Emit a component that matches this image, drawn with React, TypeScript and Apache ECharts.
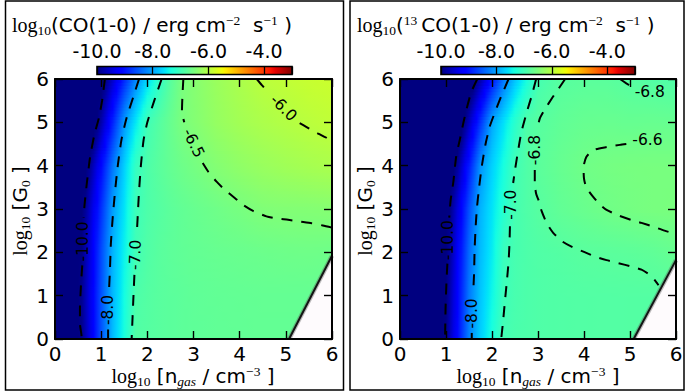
import React, { useEffect, useRef } from 'react';
import * as echarts from 'echarts';

const SANS = 'DejaVu Sans';
const SERIF = 'Liberation Serif';

// Sample positions: log10 n_gas (columns) and log10 G0 (rows)
const X_NODES = [0, 0.25, 0.5, 0.75, 1, 1.25, 1.5, 1.75, 2, 2.25, 2.5, 2.75, 3, 3.5, 4, 4.5, 5, 5.5, 6];
const Y_NODES = [0, 1, 2, 3, 4, 5, 6];

// log10 CO(1-0) line flux, one row per log10 G0 value
const CO_FLUX = [
  [-12, -11, -10.2, -9.4, -8.56, -7.84, -7.33, -6.86, -6.83, -6.8, -6.78, -6.76, -6.75, -6.73, -6.72, -6.71, -6.71, -6.71, -6.71],
  [-12, -11, -10.15, -9.37, -8.57, -7.86, -7.38, -6.9, -6.84, -6.8, -6.78, -6.76, -6.74, -6.72, -6.71, -6.7, -6.7, -6.7, -6.7],
  [-12, -11, -10.25, -9.44, -8.62, -7.89, -7.45, -7.0, -6.87, -6.8, -6.76, -6.73, -6.71, -6.68, -6.66, -6.64, -6.62, -6.61, -6.62],
  [-12, -11.1, -10.35, -9.57, -8.8, -8.03, -7.56, -7.03, -6.9, -6.83, -6.77, -6.72, -6.68, -6.61, -6.54, -6.47, -6.45, -6.44, -6.42],
  [-12.5, -11.6, -10.7, -9.88, -9.1, -8.31, -7.7, -7.1, -6.9, -6.79, -6.7, -6.62, -6.56, -6.43, -6.33, -6.25, -6.19, -6.14, -6.1],
  [-13, -12.2, -11.4, -10.55, -9.73, -8.9, -8.07, -7.52, -7.0, -6.83, -6.67, -6.52, -6.44, -6.28, -6.17, -6.09, -6.03, -5.97, -5.92],
  [-13.5, -12.8, -12.0, -11.1, -10.22, -9.54, -8.86, -8.19, -7.63, -7.15, -6.8, -6.52, -6.42, -6.24, -6.1, -5.97, -5.91, -5.86, -5.83],
];

// log10 13CO(1-0) line flux
const CO13_FLUX = [
  [-13, -12.2, -11.4, -10.7, -9.93, -9.08, -8.24, -7.71, -7.32, -6.98, -6.92, -6.9, -6.88, -6.86, -6.85, -6.845, -6.84, -6.84, -6.84],
  [-13, -12.2, -11.5, -10.75, -10.0, -9.15, -8.3, -7.77, -7.42, -7.03, -6.94, -6.9, -6.88, -6.86, -6.85, -6.845, -6.84, -6.84, -6.83],
  [-13, -12.3, -11.6, -10.85, -10.1, -9.25, -8.4, -7.83, -7.5, -7.06, -6.95, -6.9, -6.87, -6.84, -6.8, -6.785, -6.77, -6.74, -6.68],
  [-13, -12.4, -11.7, -11.0, -10.25, -9.42, -8.58, -7.89, -7.56, -7.23, -6.96, -6.88, -6.82, -6.72, -6.66, -6.6, -6.56, -6.53, -6.52],
  [-13.2, -12.5, -11.8, -11.1, -10.5, -9.83, -8.97, -8.1, -7.69, -7.35, -7.0, -6.88, -6.78, -6.68, -6.6, -6.56, -6.54, -6.53, -6.53],
  [-13.5, -12.9, -12.3, -11.7, -11.2, -10.45, -9.6, -8.77, -7.97, -7.58, -7.19, -6.88, -6.82, -6.73, -6.68, -6.67, -6.68, -6.67, -6.68],
  [-14, -13.4, -12.8, -12.3, -11.8, -11.1, -10.4, -9.72, -9.01, -8.31, -7.77, -7.35, -6.96, -6.81, -6.78, -6.78, -6.82, -6.85, -6.87],
];

// Region without models (lower-right wedge): [x at G0=0, G0=0, x right edge, G0 at right edge]
const CO_GAP = [[5.07, 0, 6, 1.92]];
const CO13_GAP = [[5.08, 0, 6, 1.82]];

// Colour scale limits and colourbar ticks
const COLOR_MIN = -10;
const COLOR_MAX = -3;
const CBAR_TICKS = [-10, -8, -6, -4];

// CO contour paths, split where the inline label sits
const CO_M100_A = [[1.08, 6], [1.02, 5.5], [0.95, 5.1], [0.85, 4.7], [0.76, 4.2], [0.69, 3.6], [0.64, 3.1], [0.62, 2.8]];
const CO_M100_B = [[0.59, 1.7], [0.56, 1.2], [0.54, 0.7], [0.54, 0.35], [0.57, 0.12], [0.58, 0]];
const CO_M80_A = [[1.82, 6], [1.7, 5.6], [1.55, 5.1], [1.44, 4.6], [1.36, 4.0], [1.3, 3.4], [1.25, 2.8], [1.21, 2.2], [1.19, 1.6], [1.17, 1.12]];
const CO_M80_B = [[1.15, 0.22], [1.15, 0]];
const CO_M70_A = [[2.31, 6], [2.15, 5.5], [2.0, 5.0], [1.92, 4.6], [1.86, 4.0], [1.82, 3.4], [1.79, 2.8], [1.77, 2.4]];
const CO_M70_B = [[1.72, 1.48], [1.7, 1.0], [1.68, 0.5], [1.66, 0]];
const CO_M65_A = [[2.78, 6], [2.76, 5.6], [2.75, 5.25], [2.8, 5.0]];
const CO_M65_B = [[3.2, 4.06], [3.32, 3.86], [3.5, 3.63], [3.68, 3.44], [3.9, 3.25], [4.08, 3.09], [4.3, 2.95], [4.58, 2.83], [4.8, 2.78], [5.05, 2.75], [5.3, 2.71], [5.56, 2.67], [5.8, 2.62], [6, 2.57]];
const CO_M60_A = [[4.37, 6], [4.48, 5.86], [4.6, 5.72]];
const CO_M60_B = [[5.3, 4.98], [5.45, 4.89], [5.7, 4.74], [5.87, 4.65], [6, 4.56]];

// 13CO contour paths
const CO13_M100_A = [[1.68, 6], [1.55, 5.7], [1.45, 5.32], [1.38, 5.0], [1.3, 4.6], [1.22, 4.2], [1.16, 3.63], [1.1, 3.2], [1.07, 2.8]];
const CO13_M100_B = [[1.03, 1.74], [1.01, 1.32], [0.99, 0.7], [0.98, 0]];
const CO13_M80_A = [[2.36, 6], [2.2, 5.6], [2.07, 5.25], [1.95, 4.9], [1.86, 4.5], [1.78, 4.0], [1.72, 3.5], [1.67, 3.0], [1.64, 2.5], [1.62, 2.0], [1.61, 1.5], [1.59, 1.05]];
const CO13_M80_B = [[1.56, 0.14], [1.56, 0]];
const CO13_M70_A = [[2.96, 6], [2.86, 5.6], [2.76, 5.25], [2.64, 4.78], [2.56, 4.3], [2.5, 3.9], [2.46, 3.6]];
const CO13_M70_B = [[2.39, 2.6], [2.38, 2.2], [2.36, 1.78], [2.32, 1.3], [2.28, 0.86], [2.24, 0.4], [2.2, 0]];
const CO13_M68_A = [[3.59, 6], [3.45, 5.78], [3.3, 5.55], [3.15, 5.3], [3.04, 5.09], [2.98, 4.82]];
const CO13_M68_B = [[2.93, 3.9], [2.93, 3.59], [2.96, 3.35], [3.01, 3.21], [3.08, 2.95], [3.19, 2.67], [3.33, 2.45], [3.53, 2.25], [3.75, 2.12], [4.0, 2.01], [4.25, 1.9], [4.49, 1.82], [4.75, 1.75], [5.04, 1.67], [5.25, 1.6], [5.43, 1.48], [5.53, 1.37], [5.62, 1.24]];
const CO13_M68_C = [[4.78, 6], [4.92, 5.9], [5.02, 5.83]];
const CO13_M66_A = [[4.92, 4.5], [4.78, 4.48], [4.5, 4.43], [4.2, 4.36], [4.05, 4.2], [3.99, 3.96], [4.0, 3.7], [4.05, 3.5], [4.2, 3.28], [4.35, 3.1], [4.49, 2.98], [4.75, 2.85], [5.02, 2.75], [5.25, 2.68], [5.51, 2.59], [5.75, 2.5], [6, 2.42]];

// Contour levels with their path pieces
const CO_LEVELS: [number, number[][][]][] = [
  [-10, [CO_M100_A, CO_M100_B]],
  [-8, [CO_M80_A, CO_M80_B]],
  [-7, [CO_M70_A, CO_M70_B]],
  [-6.5, [CO_M65_A, CO_M65_B]],
  [-6, [CO_M60_A, CO_M60_B]],
];
const CO13_LEVELS: [number, number[][][]][] = [
  [-10, [CO13_M100_A, CO13_M100_B]],
  [-8, [CO13_M80_A, CO13_M80_B]],
  [-7, [CO13_M70_A, CO13_M70_B]],
  [-6.8, [CO13_M68_A, CO13_M68_B, CO13_M68_C]],
  [-6.6, [CO13_M66_A]],
];

// Inline contour labels: [x, y, rotation in degrees, level]
const CO_LABELS = [
  [0.61, 2.25, 90, -10],
  [1.15, 0.67, 90, -8],
  [1.74, 1.94, 88, -7],
  [3.0, 4.52, -64, -6.5],
  [4.95, 5.33, -45, -6],
];
const CO13_LABELS = [
  [1.05, 2.28, 90, -10],
  [1.57, 0.59, 90, -8],
  [2.41, 3.1, 90, -7],
  [2.94, 4.36, 90, -6.8],
  [5.43, 5.71, 0, -6.8],
  [5.38, 4.59, 0, -6.6],
];

// matplotlib "jet" colormap segments
const JET_R = [[0, 0], [0.35, 0], [0.66, 1], [0.89, 1], [1, 0.5]];
const JET_G = [[0, 0], [0.125, 0], [0.375, 1], [0.64, 1], [0.91, 0], [1, 0]];
const JET_B = [[0, 0.5], [0.11, 1], [0.34, 1], [0.65, 0], [1, 0]];

function channel(seg: number[][], t: number) {
  for (let i = 0; i < seg.length - 1; i++) {
    const [a, va] = seg[i];
    const [b, vb] = seg[i + 1];
    if (t <= b) return va + ((vb - va) * (t - a)) / (b - a);
  }
  return seg[seg.length - 1][1];
}

function jet(v: number) {
  const t = Math.min(1, Math.max(0, (v - COLOR_MIN) / (COLOR_MAX - COLOR_MIN)));
  const r = Math.round(channel(JET_R, t) * 255);
  const g = Math.round(channel(JET_G, t) * 255);
  const b = Math.round(channel(JET_B, t) * 255);
  return `rgb(${r},${g},${b})`;
}

const SUB_ROWS = 14;
const SUB_COLS = 3;

function fieldSeries(field: number[][], axis: number) {
  return {
    type: 'custom',
    xAxisIndex: axis,
    yAxisIndex: axis,
    z: 1,
    silent: true,
    data: Y_NODES.slice(0, -1).map((y, j) => [X_NODES[0], y, X_NODES[X_NODES.length - 1], Y_NODES[j + 1], j]),
    renderItem: (_p: any, api: any) => {
      const x0 = api.value(0);
      const y0 = api.value(1);
      const x1 = api.value(2);
      const y1 = api.value(3);
      const j = api.value(4);
      const pA = api.coord([x0, y0]);
      const pB = api.coord([x1, y1]);
      const children: any[] = [];
      for (let k = 0; k < SUB_ROWS; k++) {
        const f = (k + 0.5) / SUB_ROWS;
        const stops: any[] = [];
        let last = 0;
        for (let i = 0; i < X_NODES.length - 1; i++) {
          const va = field[j][i] * (1 - f) + field[j + 1][i] * f;
          const vb = field[j][i + 1] * (1 - f) + field[j + 1][i + 1] * f;
          last = vb;
          for (let s = 0; s < SUB_COLS; s++) {
            const g = s / SUB_COLS;
            const xv = X_NODES[i] + (X_NODES[i + 1] - X_NODES[i]) * g;
            stops.push({ offset: (xv - x0) / (x1 - x0), color: jet(va + (vb - va) * g) });
          }
        }
        stops.push({ offset: 1, color: jet(last) });
        const yBot = pA[1] + ((pB[1] - pA[1]) * k) / SUB_ROWS;
        const yTop = pA[1] + ((pB[1] - pA[1]) * (k + 1)) / SUB_ROWS;
        children.push({
          type: 'rect',
          shape: { x: pA[0], y: yTop, width: pB[0] - pA[0], height: yBot - yTop + 0.8 },
          style: { fill: new echarts.graphic.LinearGradient(0, 0, 1, 0, stops) },
        });
      }
      return { type: 'group', children };
    },
  };
}

function gapSeries(gap: number[][], axis: number) {
  return {
    type: 'custom',
    xAxisIndex: axis,
    yAxisIndex: axis,
    z: 2,
    silent: true,
    data: gap,
    renderItem: (_p: any, api: any) => {
      const a = api.coord([api.value(0), api.value(1)]);
      const b = api.coord([api.value(2), api.value(1)]);
      const c = api.coord([api.value(2), api.value(3)]);
      return {
        type: 'group',
        children: [
          { type: 'polygon', shape: { points: [a, b, c] }, style: { fill: '#fefbfd' } },
          { type: 'line', shape: { x1: a[0], y1: a[1], x2: c[0], y2: c[1] }, style: { stroke: 'rgba(90,90,90,0.4)', lineWidth: 4.5 } },
          { type: 'line', shape: { x1: a[0], y1: a[1], x2: c[0], y2: c[1] }, style: { stroke: '#141414', lineWidth: 2 } },
        ],
      };
    },
  };
}

function contourSeries(levels: [number, number[][][]][], axis: number) {
  const out: any[] = [];
  levels.forEach(([level, parts]) => {
    parts.forEach((pts) => {
      out.push({
        type: 'line',
        name: String(level),
        xAxisIndex: axis,
        yAxisIndex: axis,
        data: pts,
        symbol: 'none',
        smooth: 0.2,
        silent: true,
        z: 3,
        lineStyle: { color: '#000', width: 2, type: [11, 9] },
      });
    });
  });
  return out;
}

function labelSeries(labels: number[][], axis: number) {
  return {
    type: 'custom',
    xAxisIndex: axis,
    yAxisIndex: axis,
    z: 4,
    silent: true,
    data: labels,
    renderItem: (_p: any, api: any) => {
      const p = api.coord([api.value(0), api.value(1)]);
      return {
        type: 'text',
        x: p[0],
        y: p[1],
        rotation: (api.value(2) * Math.PI) / 180,
        style: {
          text: Number(api.value(3)).toFixed(1),
          fontSize: 15.5,
          fontFamily: SANS,
          fill: '#000',
          align: 'center',
          verticalAlign: 'middle',
        },
      };
    },
  };
}

function colorbarSeries(axis: number) {
  const stops: any[] = [];
  const n = 70;
  for (let i = 0; i <= n; i++) {
    stops.push({ offset: i / n, color: jet(COLOR_MIN + ((COLOR_MAX - COLOR_MIN) * i) / n) });
  }
  return {
    type: 'custom',
    xAxisIndex: axis,
    yAxisIndex: axis,
    z: 2,
    silent: true,
    data: [[COLOR_MIN, 0, COLOR_MAX, 1]],
    renderItem: (_p: any, api: any) => {
      const a = api.coord([api.value(0), api.value(1)]);
      const b = api.coord([api.value(2), api.value(3)]);
      return {
        type: 'rect',
        shape: { x: a[0], y: b[1], width: b[0] - a[0], height: a[1] - b[1] },
        style: { fill: new echarts.graphic.LinearGradient(0, 0, 1, 0, stops), stroke: '#000', lineWidth: 1.6 },
      };
    },
  };
}

const AXIS_LINE = { show: true, onZero: false, lineStyle: { color: '#000', width: 2 } };
const AXIS_TICK = { show: true, inside: true, length: 8, lineStyle: { color: '#000', width: 1.4 } };
const TICK_FONT = 20;

function plotXAxes(gridIndex: number) {
  return [
    {
      type: 'value', gridIndex, min: 0, max: 6, interval: 1, position: 'bottom', z: 5,
      axisLine: AXIS_LINE, axisTick: AXIS_TICK, splitLine: { show: false },
      axisLabel: { fontSize: TICK_FONT, lineHeight: 16, fontFamily: SANS, color: '#000', margin: 7 },
    },
    {
      type: 'value', gridIndex, min: 0, max: 6, interval: 1, position: 'top', z: 5,
      axisLine: AXIS_LINE, axisTick: AXIS_TICK, splitLine: { show: false }, axisLabel: { show: false },
    },
  ];
}

function plotYAxes(gridIndex: number) {
  return [
    {
      type: 'value', gridIndex, min: 0, max: 6, interval: 1, position: 'left', z: 5,
      axisLine: AXIS_LINE, axisTick: AXIS_TICK, splitLine: { show: false },
      axisLabel: { fontSize: TICK_FONT, fontFamily: SANS, color: '#000', margin: 6 },
    },
    {
      type: 'value', gridIndex, min: 0, max: 6, interval: 1, position: 'right', z: 5,
      axisLine: AXIS_LINE, axisTick: AXIS_TICK, splitLine: { show: false }, axisLabel: { show: false },
    },
  ];
}

function cbarXAxis(gridIndex: number) {
  return {
    type: 'value', gridIndex, min: COLOR_MIN, max: COLOR_MAX, interval: 2, position: 'top', z: 5,
    axisLine: { show: false, onZero: false },
    axisTick: { show: true, inside: true, length: 8, lineStyle: { color: '#000', width: 1.3 } },
    splitLine: { show: false },
    axisLabel: {
      fontSize: 19, fontFamily: SANS, color: '#000', margin: 6,
      formatter: (v: number) => (CBAR_TICKS.includes(v) ? v.toFixed(1) : ''),
    },
  };
}

function cbarYAxis(gridIndex: number) {
  return { type: 'value', gridIndex, min: 0, max: 1, show: false };
}

// Titles with sub/superscripts, laid out piece by piece along a baseline
type Piece = [string, 'sans' | 'serif' | 'serifIt', 'main' | 'sub' | 'sup'];
const MAIN_SIZE = 20;
const SMALL_SIZE = 13.5;

function mathLabel(pieces: Piece[], x: number, y: number, rotation: number, anchor: 'left' | 'center') {
  const ctx = document.createElement('canvas').getContext('2d') as CanvasRenderingContext2D;
  const items = pieces.map(([text, face, role]) => {
    const size = role === 'main' ? MAIN_SIZE : SMALL_SIZE;
    const family = face === 'sans' ? SANS : SERIF;
    const italic = face === 'serifIt';
    ctx.font = `${italic ? 'italic ' : ''}${size}px "${family}"`;
    const w = ctx.measureText(text).width;
    const base = role === 'sub' ? MAIN_SIZE * 0.17 : role === 'sup' ? -MAIN_SIZE * 0.33 : 0;
    return { text, size, family, italic, w, dy: base - 0.34 * size };
  });
  const total = items.reduce((s, it) => s + it.w, 0);
  let cx = anchor === 'center' ? -total / 2 : 0;
  const children = items.map((it) => {
    const el = {
      type: 'text',
      x: cx,
      y: it.dy,
      style: {
        text: it.text,
        fontSize: it.size,
        lineHeight: it.size,
        fontFamily: it.family,
        fontStyle: it.italic ? 'italic' : 'normal',
        fill: '#000',
        align: 'left',
        verticalAlign: 'middle',
      },
    };
    cx += it.w;
    return el;
  });
  return { type: 'group', x, y, rotation, children };
}

const NB = '\u00a0';
const TITLE_CO: Piece[] = [
  ['log', 'serif', 'main'], ['10', 'serif', 'sub'], ['(CO(1-0) / erg cm', 'sans', 'main'],
  ['\u22122', 'serif', 'sup'], [NB + NB + 's', 'sans', 'main'], ['\u22121', 'serif', 'sup'], [NB + ')', 'sans', 'main'],
];
const TITLE_CO13: Piece[] = [
  ['log', 'serif', 'main'], ['10', 'serif', 'sub'], ['(', 'sans', 'main'], ['13', 'serif', 'sup'],
  ['\u2009CO(1-0) / erg cm', 'sans', 'main'], ['\u22122', 'serif', 'sup'], [NB + NB + 's', 'sans', 'main'],
  ['\u22121', 'serif', 'sup'], [NB + ')', 'sans', 'main'],
];
const X_TITLE: Piece[] = [
  ['log', 'serif', 'main'], ['10', 'serif', 'sub'], [NB + '[n', 'sans', 'main'], ['gas', 'serifIt', 'sub'],
  [NB + '/' + NB + 'cm', 'sans', 'main'], ['\u22123', 'serif', 'sup'], [NB + ']', 'sans', 'main'],
];
const Y_TITLE: Piece[] = [
  ['log', 'serif', 'main'], ['10', 'serif', 'sub'], [NB + '[G', 'sans', 'main'], ['0', 'serif', 'sub'], [NB + ']', 'sans', 'main'],
];

export default function App() {
  const ref = useRef<HTMLDivElement>(null);

  useEffect(() => {
    if (!ref.current) return;
    const chart = echarts.init(ref.current, undefined, { renderer: 'svg' });

    const graphics: any[] = [
      { type: 'rect', shape: { x: 5.5, y: 1, width: 338, height: 389 }, style: { fill: 'none', stroke: '#000', lineWidth: 1.5 }, z: 100 },
      { type: 'rect', shape: { x: 350, y: 1, width: 334, height: 389 }, style: { fill: 'none', stroke: '#000', lineWidth: 1.5 }, z: 100 },
      mathLabel(TITLE_CO, 12, 32, 0, 'left'),
      mathLabel(TITLE_CO13, 357, 32, 0, 'left'),
      mathLabel(X_TITLE, 193, 383, 0, 'center'),
      mathLabel(X_TITLE, 538, 383, 0, 'center'),
      mathLabel(Y_TITLE, 27, 211, Math.PI / 2, 'center'),
      mathLabel(Y_TITLE, 372, 211, Math.PI / 2, 'center'),
    ];

    chart.setOption({
      animation: false,
      backgroundColor: '#ffffff',
      textStyle: { fontFamily: SANS },
      grid: [
        { left: 55, top: 79, width: 277, height: 260, containLabel: false, outerBoundsMode: 'none' },
        { left: 400, top: 79, width: 276, height: 260, containLabel: false, outerBoundsMode: 'none' },
        { left: 97, top: 66.5, width: 195, height: 8, containLabel: false, outerBoundsMode: 'none' },
        { left: 441, top: 66.5, width: 194, height: 8, containLabel: false, outerBoundsMode: 'none' },
      ],
      xAxis: [...plotXAxes(0), ...plotXAxes(1), cbarXAxis(2), cbarXAxis(3)],
      yAxis: [...plotYAxes(0), ...plotYAxes(1), cbarYAxis(2), cbarYAxis(3)],
      series: [
        fieldSeries(CO_FLUX, 0),
        gapSeries(CO_GAP, 0),
        ...contourSeries(CO_LEVELS, 0),
        labelSeries(CO_LABELS, 0),
        fieldSeries(CO13_FLUX, 2),
        gapSeries(CO13_GAP, 2),
        ...contourSeries(CO13_LEVELS, 2),
        labelSeries(CO13_LABELS, 2),
        colorbarSeries(4),
        colorbarSeries(5),
      ],
      graphic: { elements: graphics },
    });

    return () => chart.dispose();
  }, []);

  return (
    <div
      ref={ref}
      style={{ position: 'fixed', left: 0, top: 0, width: 685, height: 392, background: '#fff' }}
    />
  );
}
